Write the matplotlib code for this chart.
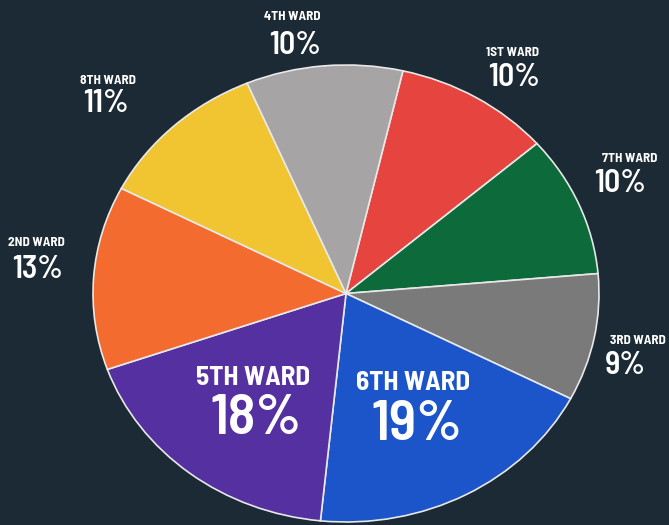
import numpy as np
import matplotlib.pyplot as plt

# ward shares, clockwise from the top
wards = ["1ST WARD", "7TH WARD", "3RD WARD", "6TH WARD",
         "5TH WARD", "2ND WARD", "8TH WARD", "4TH WARD"]
shares = [10, 10, 9, 19, 18, 13, 11, 10]
colors = ["#e5443f", "#0c6a3b", "#7b7a7a", "#1b55c9",
          "#5530a0", "#f36b2f", "#f1c432", "#a6a4a4"]

# label centres (pixels): name line, percent line
name_px = [(512, 52), (630, 158), (638, 340), (413, 383),
           (253, 378), (36, 243), (108, 80), (292, 17)]
pct_px = [(514, 77), (620, 184), (625, 366), (417, 426),
          (256, 420), (38, 269), (106, 104), (295, 45)]
inside = [False, False, False, True, True, False, False, False]

W, H = 669, 525
BG = "#1b2a34"
cx, cy, rx, ry = 346, 293.5, 253, 228.5

plt.rcParams['font.family'] = ['Barlow Semi Condensed', 'DejaVu Sans']

fig = plt.figure(figsize=(W / 100, H / 100), dpi=100, facecolor=BG)
ax = fig.add_axes([(cx - rx) / W, (H - cy - ry) / H, 2 * rx / W, 2 * ry / H])
ax.set_facecolor(BG)

ax.pie(shares, colors=colors, startangle=77, counterclock=False,
       wedgeprops=dict(edgecolor="#e8e8e8", linewidth=1.2))
ax.set_aspect('auto')
ax.set_xlim(-1, 1)
ax.set_ylim(-1, 1)


def to_fig(p):
    return p[0] / W, 1 - p[1] / H


for name, val, npos, ppos, big in zip(wards, shares, name_px, pct_px, inside):
    nx, ny = to_fig(npos)
    px, py = to_fig(ppos)
    fig.text(nx, ny, name, color="white", fontweight="bold",
             fontsize=19.5 if big else 9.5, ha="center", va="center")
    fig.text(px, py, f"{val}%", color="white", fontweight="semibold",
             fontsize=41 if big else 23, ha="center", va="center")

fig.savefig("out.png", dpi=100, facecolor=BG)
